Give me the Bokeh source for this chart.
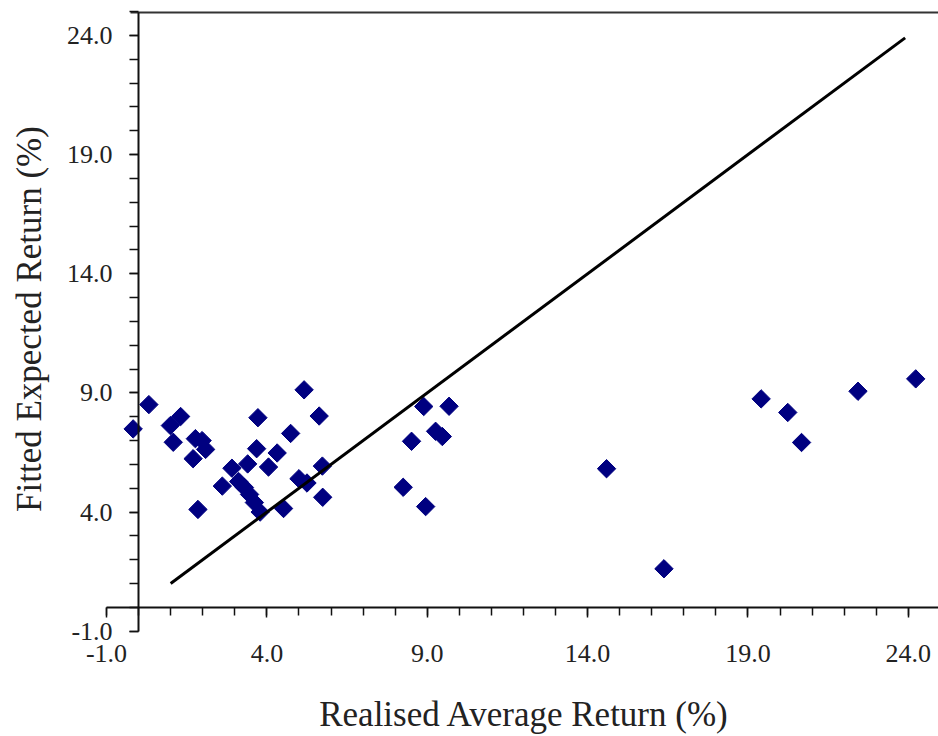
import numpy as np
from bokeh.plotting import figure
from bokeh.models import FixedTicker, NumeralTickFormatter, Label, Range1d, LinearAxis
from bokeh.embed import file_html
from bokeh.resources import INLINE

# Realised average return (%) vs fitted expected return (%)
realised = [-0.17, 0.32, 0.99, 1.31, 1.08, 1.70, 1.77, 1.98, 2.09, 1.85,
            2.61, 2.91, 3.12, 3.30, 3.46, 3.61, 3.79, 3.40, 3.68, 3.72,
            4.05, 4.32, 4.52, 4.74, 5.16, 5.63, 5.00, 5.25, 5.73, 5.74,
            8.25, 8.51, 8.89, 8.95, 9.26, 9.47, 9.68, 14.59, 16.38, 19.41,
            20.24, 20.67, 22.43, 24.23]
fitted = [7.49, 8.51, 7.63, 8.01, 6.93, 6.24, 7.08, 7.00, 6.63, 4.11,
          5.09, 5.84, 5.28, 5.03, 4.74, 4.40, 4.00, 6.02, 6.66, 7.96,
          5.89, 6.48, 4.15, 7.30, 9.13, 8.03, 5.40, 5.22, 5.93, 4.62,
          5.04, 6.97, 8.43, 4.23, 7.39, 7.17, 8.44, 5.82, 1.62, 8.75,
          8.18, 6.92, 9.07, 9.59]

# 45-degree reference line
line_x = [1.0, 23.9]
line_y = [1.0, 23.9]

major_ticks = [-1, 4, 9, 14, 19, 24]
minor_ticks = list(range(-1, 26))

x_label = "Realised Average Return (%)"
y_label = "Fitted Expected Return (%)"

FONT = "Liberation Serif"
TXT = "#222222"
AX = "#111111"

p = figure(width=938, height=736,
           x_range=Range1d(-4.306, 24.94), y_range=Range1d(-5.418, 25.468),
           output_backend="svg", toolbar_location=None, title=None,
           min_border=0, min_border_left=0, min_border_right=0,
           min_border_top=0, min_border_bottom=0)

p.background_fill_color = "white"
p.border_fill_color = "white"
p.outline_line_color = None
p.grid.visible = False

for ax in (p.xaxis[0], p.yaxis[0]):
    ax.ticker = FixedTicker(ticks=major_ticks, minor_ticks=minor_ticks)
    ax.formatter = NumeralTickFormatter(format="0.0")
    ax.fixed_location = 0
    ax.axis_line_width = 2
    ax.axis_line_color = AX
    ax.major_tick_line_color = AX
    ax.minor_tick_line_color = AX
    ax.major_tick_line_width = 1.5
    ax.minor_tick_line_width = 1.5
    ax.major_tick_in = 0
    ax.minor_tick_in = 0
    ax.major_label_text_font = FONT
    ax.major_label_text_font_size = "26px"
    ax.major_label_text_color = TXT

p.xaxis[0].bounds = (-1, 25)
p.xaxis[0].major_tick_out = 10
p.xaxis[0].minor_tick_out = 8
p.xaxis[0].major_label_standoff = 28

p.yaxis[0].bounds = (-1, 24.96)
p.yaxis[0].major_tick_out = 9
p.yaxis[0].minor_tick_out = 9
p.yaxis[0].major_label_standoff = 17

# top frame line
top = LinearAxis(fixed_location=24.96, bounds=(-0.25, 25),
                 ticker=FixedTicker(ticks=[]), axis_line_width=2,
                 axis_line_color="#333333", major_label_text_font_size="0px",
                 major_tick_line_color=None, minor_tick_line_color=None)
p.add_layout(top, "above")

p.scatter(realised, fitted, marker="square", angle=np.pi / 4, size=13,
          fill_color="#000080", line_color="#000080")
p.line(line_x, line_y, line_width=3, line_color="black")

p.add_layout(Label(x=12.03, y=-4.5, text=x_label, text_align="center",
                   text_baseline="middle", text_font=FONT,
                   text_font_size="35px", text_color=TXT))
p.add_layout(Label(x=-3.4, y=12.1, text=y_label, text_align="center",
                   text_baseline="middle", angle=np.pi / 2, text_font=FONT,
                   text_font_size="35px", text_color=TXT))

open("out.html", "w").write(file_html(p, INLINE))
